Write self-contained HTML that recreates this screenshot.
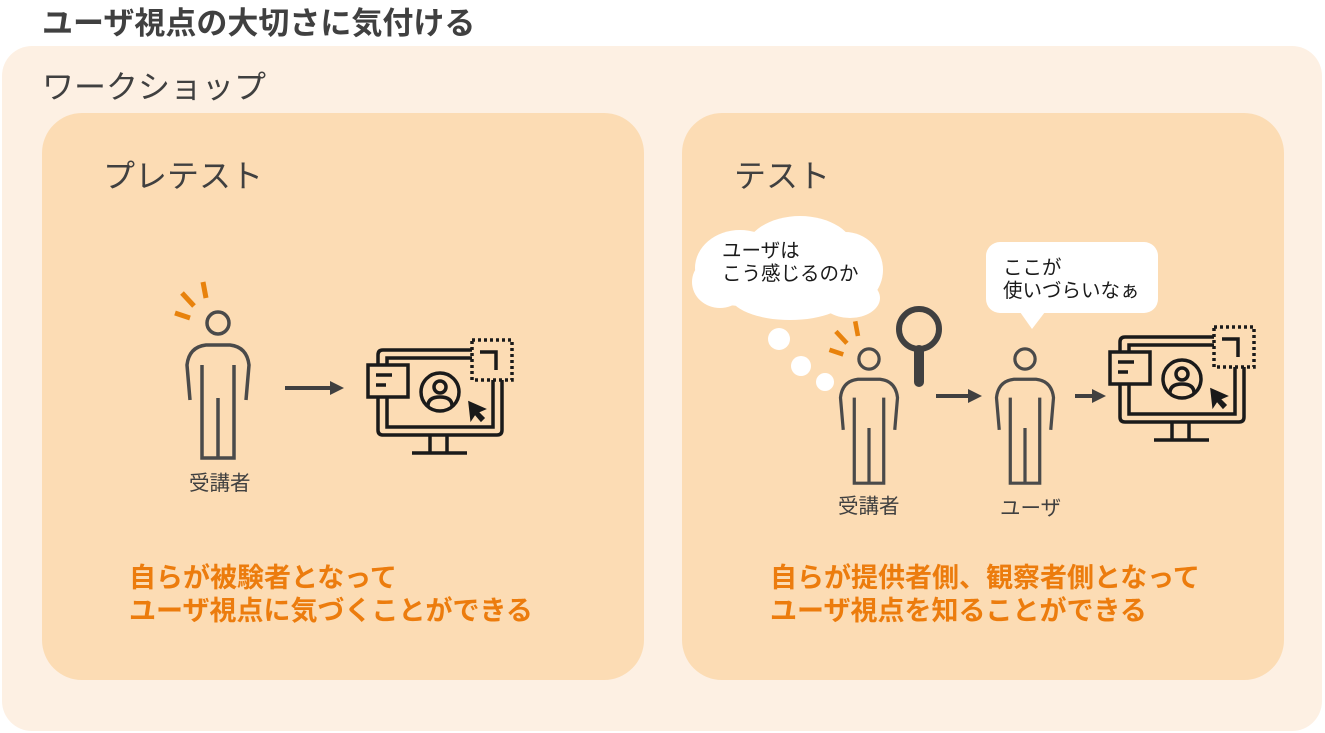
<!DOCTYPE html>
<html><head><meta charset="utf-8"><style>
body{margin:0;width:1325px;height:733px;background:#fff;position:relative;overflow:hidden;font-family:"Liberation Sans","Noto Sans CJK JP",sans-serif;}
.a{position:absolute;white-space:nowrap;}
</style></head><body>
<div class="a" style="left:2px;top:46px;width:1320px;height:685px;background:#fdf0e3;border-radius:30px"></div>
<div class="a" style="left:42px;top:113px;width:602px;height:567px;background:#fcdcb4;border-radius:40px"></div>
<div class="a" style="left:682px;top:113px;width:602px;height:567px;background:#fcdcb4;border-radius:40px"></div>
<div class="a" style="left:42px;top:-2px;font-size:31px;font-weight:bold;color:#404040">ユーザ視点の大切さに気付ける</div>
<div class="a" style="left:42px;top:62px;font-size:32px;color:#404040">ワークショップ</div>
<div class="a" style="left:103px;top:151px;font-size:32px;color:#404040">プレテスト</div>
<div class="a" style="left:734px;top:151px;font-size:32px;color:#404040">テスト</div>
<div class="a" style="left:129px;top:562px;font-size:27px;font-weight:bold;color:#ec7c0d;line-height:33px">自らが被験者となって<br>ユーザ視点に気づくことができる</div>
<div class="a" style="left:770px;top:562px;font-size:27px;font-weight:bold;color:#ec7c0d;line-height:33px">自らが提供者側、観察者側となって<br>ユーザ視点を知ることができる</div>
<div class="a" style="left:189px;top:466px;font-size:20.5px;color:#404040">受講者</div>
<div class="a" style="left:838px;top:489px;font-size:20.5px;color:#404040">受講者</div>
<div class="a" style="left:1000px;top:491px;font-size:20.5px;color:#404040">ユーザ</div>
<svg class="a" style="left:0;top:0" width="1325" height="733">
<defs>
<g id="p" fill="none" stroke="#4a4a4a" stroke-width="3.5">
<circle cx="0" cy="0" r="11"/>
<path d="M-28,77 L-31,42 Q-29,24 -12,22 L12,22 Q29,24 31,42 L28,77"/>
<path d="M-16,42 V135 H16 V42 M0,75 V135"/>
</g>
<g id="r" stroke="#e8820c" stroke-width="5">
<line x1="-43" y1="-10" x2="-28" y2="-5"/><line x1="-36" y1="-30" x2="-24" y2="-17"/><line x1="-15" y1="-41" x2="-12" y2="-25"/>
</g>
<g id="m" fill="none" stroke="#1a1a1a" stroke-width="3.5">
<path d="M10,25 V15 Q10,10 15,10 H104 M134,40 V90 Q134,95 129,95 H15 Q10,95 10,90 V57"/>
<path d="M19,25 V18 H104 M125,40 V87 H19 V57"/>
<path d="M62,95 V113 M79,95 V113 M44,113 H99"/>
<rect x="0" y="25" width="40" height="32" fill="#fcdcb4"/>
<path d="M8,35 H24 M8,45 H18"/>
<rect x="104" y="0" width="40" height="40" stroke-dasharray="3,3"/>
<path d="M112,12 H128 V30"/>
<circle cx="72" cy="52" r="19"/>
<circle cx="72" cy="47" r="6"/>
<path d="M60,66 Q60,57 72,57 Q84,57 84,66"/>
<path d="M101,62 L103,80 L107,74 L113,81 L116,78 L110,72 L117,69 Z" fill="#1a1a1a" stroke-width="1.5"/>
</g>
</defs>
<use href="#p" x="218" y="323"/><use href="#r" x="218" y="323"/>
<g transform="translate(869,359) scale(0.92)"><use href="#p"/><use href="#r"/></g>
<g transform="translate(1025,359) scale(0.92)"><use href="#p"/></g>
<g transform="translate(368,340)"><use href="#m"/></g>
<g transform="translate(1110,327)"><use href="#m"/></g>
<g fill="#404040" stroke="#404040" stroke-width="4">
<line x1="285" y1="388" x2="332" y2="388"/><path d="M330,381 L344,388 L330,395Z" stroke-width="0"/>
<line x1="936" y1="396" x2="970" y2="396"/><path d="M968,389 L982,396 L968,403Z" stroke-width="0"/>
<line x1="1075" y1="396" x2="1094" y2="396"/><path d="M1092,389 L1106,396 L1092,403Z" stroke-width="0"/>
</g>
<circle cx="919" cy="329" r="20" fill="none" stroke="#404040" stroke-width="6"/>
<line x1="919" y1="350" x2="919" y2="382" stroke="#404040" stroke-width="10" stroke-linecap="round"/>
<g fill="#fff">
<ellipse cx="740" cy="268" rx="45" ry="38"/><ellipse cx="800" cy="252" rx="55" ry="36"/><ellipse cx="845" cy="270" rx="38" ry="38"/>
<ellipse cx="720" cy="282" rx="28" ry="26"/><ellipse cx="790" cy="295" rx="60" ry="25"/><ellipse cx="850" cy="298" rx="30" ry="20"/>
<circle cx="779" cy="339" r="11"/><circle cx="801" cy="366" r="10"/><circle cx="825" cy="382" r="9"/>
<rect x="986" y="242" width="172" height="71" rx="14"/><path d="M1020,312 L1032,329 L1045,312Z"/>
</g>
<g font-size="19.5" fill="#1a1a1a">
<text x="722" y="257">ユーザは</text><text x="722" y="280">こう感じるのか</text>
<text x="1003" y="274">ここが</text><text x="1003" y="297">使いづらいなぁ</text>
</g>
</svg>
</body></html>
